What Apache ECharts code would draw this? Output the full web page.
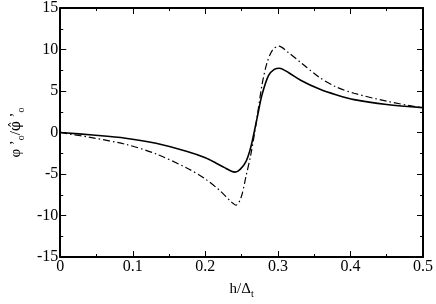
<!DOCTYPE html>
<html><head><meta charset="utf-8">
<script src="https://cdn.jsdelivr.net/npm/echarts@6/dist/echarts.min.js"></script>
<style>html,body{margin:0;padding:0;background:#fff}#c{width:436px;height:304px}</style>
</head><body><div id="c"></div>
<script>
var solidX = [0, 0.045, 0.09, 0.132, 0.175, 0.2, 0.215, 0.228, 0.236, 0.241, 0.248, 0.256, 0.261, 0.265, 0.2716, 0.278, 0.287, 0.295, 0.302, 0.315, 0.332, 0.358, 0.38, 0.405, 0.45, 0.5];
var solidY = [0, -0.31, -0.69, -1.3, -2.3, -3.05, -3.7, -4.3, -4.68, -4.78, -4.45, -3.5, -2.3, -0.9, 1.85, 4.5, 6.85, 7.6, 7.75, 7.2, 6.27, 5.2, 4.55, 3.96, 3.38, 3.0];
var dashX = [0, 0.045, 0.09, 0.132, 0.175, 0.2, 0.22, 0.235, 0.2423, 0.249, 0.256, 0.2626, 0.268, 0.272, 0.278, 0.285, 0.293, 0.301, 0.315, 0.332, 0.357, 0.38, 0.405, 0.45, 0.5];
var dashY = [0, -0.65, -1.42, -2.58, -4.3, -5.6, -7.0, -8.3, -8.75, -7.9, -5.3, -2.7, 0.0, 2.23, 5.69, 8.4, 10.0, 10.4, 9.6, 8.4, 6.65, 5.5, 4.73, 3.77, 2.95];
var xTicks = [0, 0.1, 0.2, 0.3, 0.4, 0.5];
var yTicks = [-15, -10, -5, 0, 5, 10, 15];

function pairs(xs, ys){ return xs.map(function(x,i){ return [x, ys[i]]; }); }
var font = 'Liberation Serif';
function ax(extra){
  return Object.assign({
    axisLine: {show: true, onZero: false, lineStyle: {color: '#000', width: 2}},
    axisTick: {show: true, inside: true, length: 6, lineStyle: {color: '#000', width: 1}},
    minorTick: {show: true, splitNumber: 2, length: 3, lineStyle: {color: '#000', width: 1}},
    splitLine: {show: false}
  }, extra);
}
var subStyle = {fontFamily: font, fontSize: 10, color: '#000', verticalAlign: 'bottom', lineHeight: 20, padding: [8,0,0,0]};
var mainStyle = {fontFamily: font, fontSize: 15, color: '#000', lineHeight: 20};

var chart = echarts.init(document.getElementById('c'));
chart.setOption({
  animation: false,
  backgroundColor: '#fff',
  grid: {left: 54, right: 12, top: 6, bottom: 38},
  xAxis: [
    ax({type: 'value', min: xTicks[0], max: xTicks[xTicks.length-1], interval: 0.1, position: 'bottom',
      axisLabel: {color: '#000', fontFamily: font, fontSize: 16, margin: 2},
      name: '{a|h/Δ}{s|t}', nameLocation: 'middle', nameGap: 22,
      nameTextStyle: {rich: {a: mainStyle, s: subStyle}}}),
    ax({type: 'value', min: xTicks[0], max: xTicks[xTicks.length-1], interval: 0.1, position: 'top', axisLabel: {show: false}})
  ],
  yAxis: [
    ax({type: 'value', min: yTicks[0], max: yTicks[yTicks.length-1], interval: 5, position: 'left',
      axisLabel: {color: '#000', fontFamily: font, fontSize: 16, margin: 2},
      name: '{a|φ \u2019}{s|o}{a|/}{h|φ\u0302}{a| \u2019}{s|o}', nameLocation: 'middle', nameGap: 32, nameRotate: 90,
      nameTextStyle: {rich: {a: mainStyle, s: subStyle, h: {fontFamily: 'DejaVu Serif', fontSize: 14, color: '#000', lineHeight: 20}}}}),
    ax({type: 'value', min: yTicks[0], max: yTicks[yTicks.length-1], interval: 5, position: 'right', axisLabel: {show: false}})
  ],
  series: [
    {type: 'line', data: pairs(solidX, solidY), smooth: 0.3, showSymbol: false, symbol: 'none',
     lineStyle: {color: '#000', width: 1.6, type: 'solid'}},
    {type: 'line', data: pairs(dashX, dashY), smooth: 0.3, showSymbol: false, symbol: 'none',
     lineStyle: {color: '#000', width: 1.2, type: [7, 3, 1.5, 3]}}
  ]
});
</script></body></html>
